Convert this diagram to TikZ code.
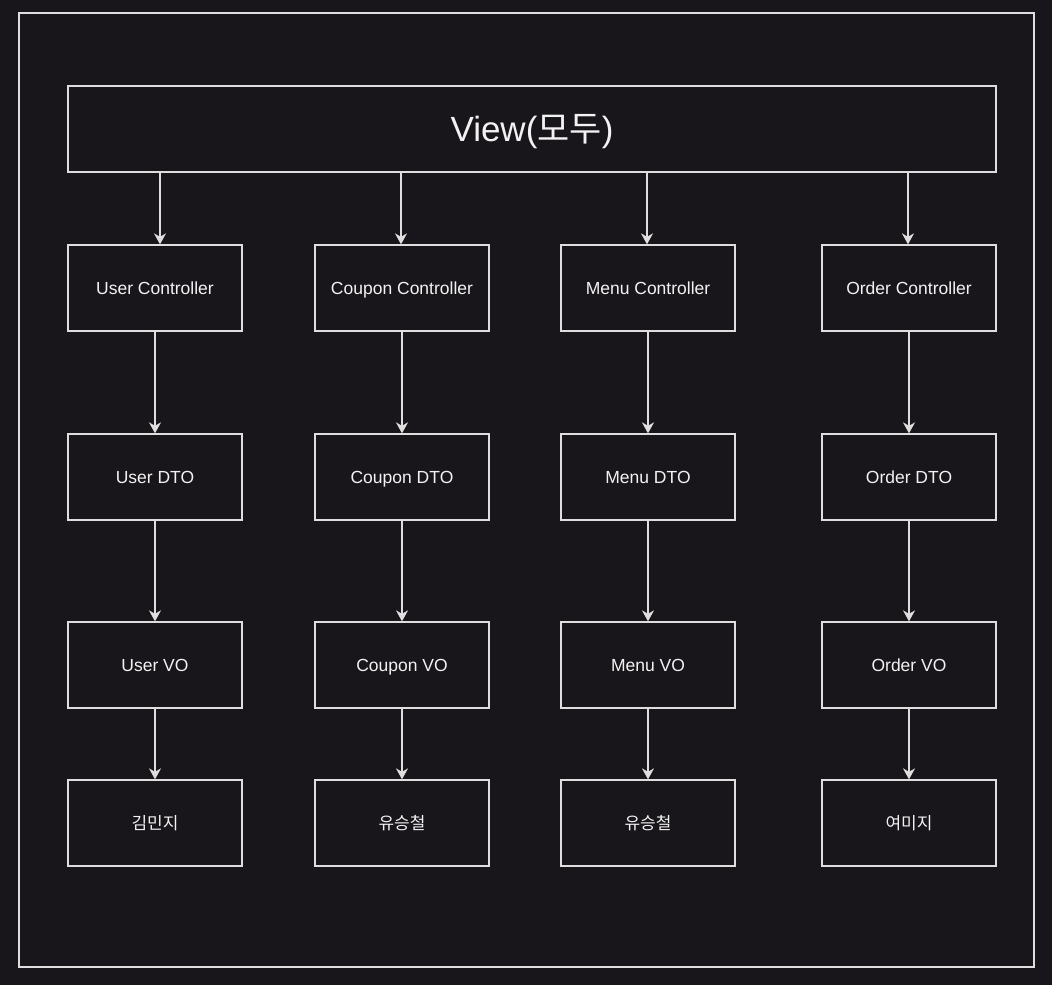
\documentclass[tikz,border=0pt]{standalone}
\usepackage{fontspec}
\setmainfont{Liberation Sans}
\newfontfamily\cjk{Noto Sans CJK KR}
\usetikzlibrary{arrows.meta}
\definecolor{bgc}{RGB}{24,22,27}
\definecolor{linec}{RGB}{222,222,222}
\definecolor{txtc}{RGB}{242,242,242}
\tikzset{
  box/.style={draw=linec, line width=1.3pt, minimum width=174pt, minimum height=86pt, inner sep=0pt, text height=12.5pt, text depth=0pt, text=txtc, font=\fontsize{17.5}{20}\selectfont},
  arr/.style={draw=linec, line width=1.3pt, -{Stealth[length=11pt,width=12pt,inset=3.5pt]}},
}
\begin{document}
\begin{tikzpicture}[x=1pt,y=-1pt]
\fill[bgc] (0,0) rectangle (1052,985);
\useasboundingbox (0,0) rectangle (1052,985);
\draw[linec, line width=1.5pt] (19,13) rectangle (1034,967);
\node[box, minimum width=928pt, text height=25pt, font=\fontsize{35}{40}\selectfont] (v) at (532,129) {View({\cjk 모두})};
% controllers
\node[box] (c1) at (155,288) {User Controller};
\node[box] (c2) at (402,288) {Coupon Controller};
\node[box] (c3) at (648,288) {Menu Controller};
\node[box] (c4) at (909,288) {Order Controller};
% DTOs
\node[box] (d1) at (155,477) {User DTO};
\node[box] (d2) at (402,477) {Coupon DTO};
\node[box] (d3) at (648,477) {Menu DTO};
\node[box] (d4) at (909,477) {Order DTO};
% VOs
\node[box] (o1) at (155,665) {User VO};
\node[box] (o2) at (402,665) {Coupon VO};
\node[box] (o3) at (648,665) {Menu VO};
\node[box] (o4) at (909,665) {Order VO};
% owners
\node[box, font=\cjk\fontsize{17}{20}\selectfont] (p1) at (155,823) {김민지};
\node[box, font=\cjk\fontsize{17}{20}\selectfont] (p2) at (402,823) {유승철};
\node[box, font=\cjk\fontsize{17}{20}\selectfont] (p3) at (648,823) {유승철};
\node[box, font=\cjk\fontsize{17}{20}\selectfont] (p4) at (909,823) {여미지};
% view to controllers
\draw[arr] ([xshift=5pt]c1.north |- v.south) -- ([xshift=5pt]c1.north);
\draw[arr] ([xshift=-1pt]c2.north |- v.south) -- ([xshift=-1pt]c2.north);
\draw[arr] ([xshift=-1pt]c3.north |- v.south) -- ([xshift=-1pt]c3.north);
\draw[arr] ([xshift=-1pt]c4.north |- v.south) -- ([xshift=-1pt]c4.north);
% columns
\foreach \i in {1,2,3,4}{
  \draw[arr] (c\i.south) -- (d\i.north);
  \draw[arr] (d\i.south) -- (o\i.north);
  \draw[arr] (o\i.south) -- (p\i.north);
}
\end{tikzpicture}
\end{document}
